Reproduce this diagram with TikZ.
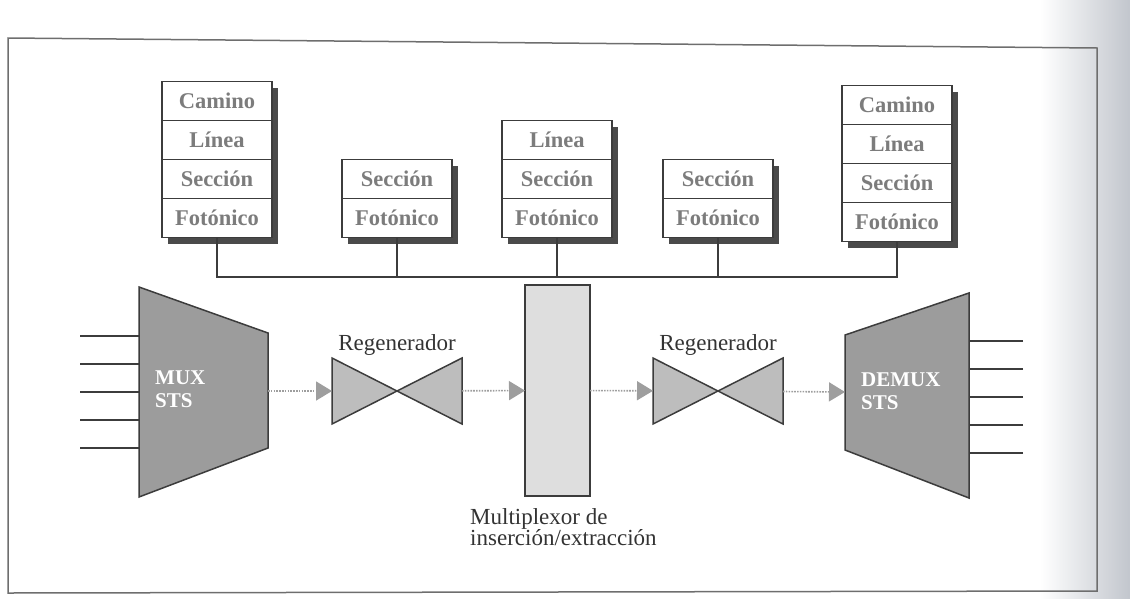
\documentclass[tikz,border=0pt]{standalone}
\usepackage{fontspec}
\setmainfont{Liberation Serif}
\usetikzlibrary{arrows.meta,positioning,shadows}

\definecolor{lineg}{HTML}{3C3C3C}
\definecolor{shadowg}{HTML}{4A4A4A}
\definecolor{laytext}{HTML}{7C7C7C}
\definecolor{labg}{HTML}{333333}
\definecolor{muxg}{HTML}{9C9C9C}
\definecolor{regg}{HTML}{BDBDBD}
\definecolor{admg}{HTML}{DEDEDE}
\definecolor{flowg}{HTML}{9E9E9E}
\definecolor{frameg}{HTML}{6E6E6E}
\definecolor{pageg}{HTML}{C2C6CD}

\tikzset{
  layer/.style={draw=lineg, fill=white, line width=1.5pt, minimum width=110pt,
    minimum height=39pt, inner sep=0pt, outer sep=0pt, text=laytext,
    font=\fontsize{22.5}{24}\selectfont\bfseries,
    drop shadow={shadow xshift=6pt, shadow yshift=-6pt, fill=shadowg, opacity=1}},
  bus/.style={draw=lineg, line width=1.6pt},
  unit/.style={draw=lineg, line width=1.5pt, fill=muxg},
  unittext/.style={text=white, inner sep=0pt, align=left,
    font=\fontsize{21}{23}\selectfont\bfseries},
  regen/.style={minimum width=130pt, minimum height=66pt, inner sep=0pt, outer sep=0pt},
  bowtie/.style={draw=lineg, line width=1.5pt, fill=regg, line join=miter},
  adm/.style={draw=lineg, line width=1.4pt, fill=admg, minimum width=65pt,
    minimum height=211pt, inner sep=0pt, outer sep=0pt},
  lab/.style={inner sep=0pt, text=labg},
  flow/.style={draw=flowg, line width=1.6pt, dash pattern=on 1.6pt off 1.2pt,
    -{Triangle[length=16pt, width=19pt, fill=flowg]}},
  tribline/.style={draw=lineg, line width=1.6pt}
}

\begin{document}
\begin{tikzpicture}[x=1pt, y=-1pt, font=\fontsize{23}{21}\selectfont]
    \useasboundingbox (0,0) rectangle (1130,598);

    % borde de pagina y marco
    \shade[left color=white, right color=pageg] (1040,0) rectangle (1130,598);
    \draw[frameg, line width=1.5pt] (8,38) -- (1097,48) -- (1097,591) -- (8,593) -- cycle;

    % pilas de capas
    \node[layer] (c1) at (217,101) {Camino};
    \node[layer, below=0pt of c1] (l1) {Línea};
    \node[layer, below=0pt of l1] (s1) {Sección};
    \node[layer, below=0pt of s1] (f1) {Fotónico};

    \node[layer] (s2) at (397,179) {Sección};
    \node[layer, below=0pt of s2] (f2) {Fotónico};

    \node[layer] (l3) at (557,140) {Línea};
    \node[layer, below=0pt of l3] (s3) {Sección};
    \node[layer, below=0pt of s3] (f3) {Fotónico};

    \node[layer] (s4) at (718,179) {Sección};
    \node[layer, below=0pt of s4] (f4) {Fotónico};

    \node[layer] (c5) at (897,105) {Camino};
    \node[layer, below=0pt of c5] (l5) {Línea};
    \node[layer, below=0pt of l5] (s5) {Sección};
    \node[layer, below=0pt of s5] (f5) {Fotónico};

    % bus de gestion
    \coordinate (busy) at (0,277);
    \draw[bus] (f1.south) -- (f1.south |- busy) -- (f5.south |- busy) -- (f5.south);
    \foreach \n in {2,3,4} {
        \draw[bus] (f\n.south) -- (f\n.south |- busy);
    }

    % MUX STS
    \draw[unit] (139,287) -- (268,333) -- (268,448) -- (139,497) -- cycle;
    \node[unittext, anchor=west] (mux) at (155,389) {MUX\\STS};
    \coordinate (muxout) at (268,391);
    \foreach \i/\y in {1/336, 2/364, 3/392, 4/420, 5/448} {
        \coordinate (in\i) at (80,\y);
        \draw[tribline] (in\i) -- ++(59,0);
    }

    % regeneradores y ADM
    \node[regen] (reg1) at (397,391) {};
    \draw[bowtie] (reg1.north west) -- (reg1.south east) -- (reg1.north east) -- (reg1.south west) -- cycle;
    \node[lab, above=2pt of reg1] (reg1lab) {Regenerador};

    \node[adm] (adm) at (557.5,390.5) {};
    \node[lab, anchor=north west, align=left] (admlab) at (470,508) {Multiplexor de\\inserción/extracción};

    \node[regen] (reg2) at (718,391) {};
    \draw[bowtie] (reg2.north west) -- (reg2.south east) -- (reg2.north east) -- (reg2.south west) -- cycle;
    \node[lab, above=2pt of reg2] (reg2lab) {Regenerador};

    % DEMUX STS
    \draw[unit] (845,335) -- (969,293) -- (969,498) -- (845,450) -- cycle;
    \node[unittext, anchor=west] (demux) at (861,391) {DEMUX\\STS};
    \coordinate (demuxin) at (845,392);
    \foreach \i/\y in {1/341, 2/369, 3/397, 4/425, 5/453} {
        \coordinate (out\i) at (1023,\y);
        \draw[tribline] (out\i) -- ++(-54,0);
    }

    % flujo de la senal
    \draw[flow] (muxout) -- (reg1);
    \draw[flow] (reg1) -- (adm);
    \draw[flow] (adm) -- (reg2);
    \draw[flow] (reg2) -- (demuxin);
\end{tikzpicture}
\end{document}
